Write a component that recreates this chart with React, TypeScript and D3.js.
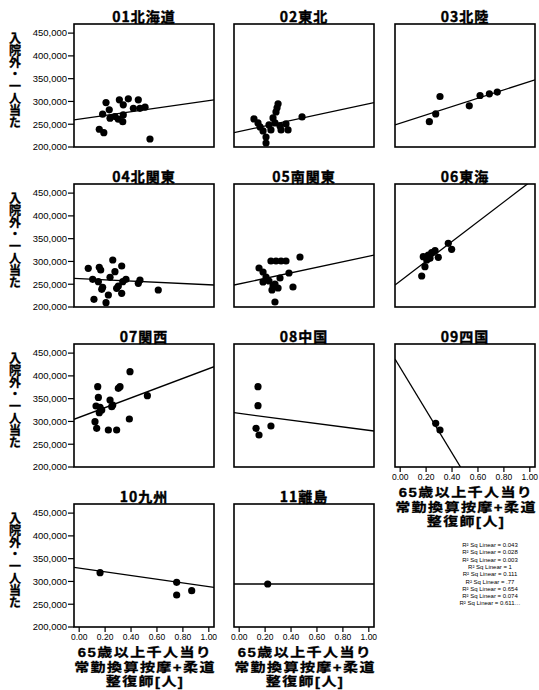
import React from 'react'
import * as d3 from 'd3'

// region titles, one panel per region
const regionNames = [
  '01北海道', '02東北', '03北陸', '04北関東', '05南関東', '06東海',
  '07関西', '08中国', '09四国', '10九州', '11離島',
]

// [x, y] points
const hokkaido: [number, number][] = [
  [0.155, 239000], [0.19, 231500], [0.207, 297600], [0.181, 272000], [0.232, 281500],
  [0.238, 263200], [0.276, 266700], [0.31, 303500], [0.302, 261000], [0.34, 270500],
  [0.34, 292500], [0.379, 305700], [0.336, 255700], [0.418, 285000], [0.456, 303500],
  [0.469, 285000], [0.508, 287400], [0.546, 217600],
]
const tohoku: [number, number][] = [
  [0.114, 261700], [0.145, 252900], [0.161, 244000], [0.184, 235200], [0.207, 222000],
  [0.207, 208800], [0.245, 237400], [0.261, 263900], [0.292, 285900], [0.3, 294700],
  [0.284, 277100], [0.276, 252900], [0.315, 246300], [0.323, 237400], [0.361, 250700],
  [0.377, 237400], [0.485, 266100], [0.23, 248500],
]
const hokuriku: [number, number][] = [
  [0.225, 255700], [0.274, 272700], [0.307, 310800], [0.533, 290300], [0.616, 313000],
  [0.688, 316800], [0.749, 320500],
]
const kitaKanto: [number, number][] = [
  [0.07, 284900], [0.155, 287100], [0.166, 281200], [0.259, 303200], [0.328, 290000],
  [0.276, 277500], [0.104, 260800], [0.148, 255500], [0.238, 265200], [0.361, 260800],
  [0.469, 259300], [0.456, 252000], [0.181, 243200], [0.302, 246100], [0.336, 255500],
  [0.61, 237300], [0.174, 238900], [0.328, 230100], [0.114, 216900], [0.225, 226300],
  [0.207, 209400], [0.289, 241000],
]
const minamiKanto: [number, number][] = [
  [0.153, 285600], [0.184, 276800], [0.207, 265900], [0.23, 257100], [0.261, 246100],
  [0.276, 250500], [0.253, 237300], [0.3, 241700], [0.276, 211000], [0.384, 274600],
  [0.415, 243900], [0.469, 309800], [0.245, 301000], [0.284, 301000], [0.323, 301000],
  [0.361, 301000], [0.184, 254900], [0.315, 263700],
]
const tokai: [number, number][] = [
  [0.166, 268000], [0.191, 288500], [0.205, 303200], [0.178, 310400], [0.217, 314100],
  [0.243, 319200], [0.269, 323600], [0.294, 309100], [0.371, 339800], [0.397, 326700],
  [0.23, 306900],
]
const kansai: [number, number][] = [
  [0.143, 376300], [0.148, 352700], [0.13, 333900], [0.161, 331000], [0.174, 325100],
  [0.155, 319200], [0.122, 299400], [0.135, 285000], [0.225, 281200], [0.289, 281200],
  [0.238, 347100], [0.259, 336100], [0.302, 372700], [0.392, 409200], [0.387, 305400],
  [0.526, 356500], [0.251, 332400], [0.315, 376300],
]
const chugoku: [number, number][] = [
  [0.145, 376300], [0.145, 334600], [0.13, 284900], [0.153, 270200], [0.245, 290000],
]
const shikoku: [number, number][] = [[0.274, 295900], [0.307, 281200]]
const kyushu: [number, number][] = [
  [0.161, 319200], [0.752, 298100], [0.752, 270200], [0.868, 279700],
]
const ritou: [number, number][] = [[0.22, 294400]]

const regionPoints = [
  hokkaido, tohoku, hokuriku, kitaKanto, minamiKanto, tokai,
  kansai, chugoku, shikoku, kyushu, ritou,
]

// linear fit lines, y = intercept + slope * x
const fitIntercept = [261130, 233950, 252170, 262450, 250700, 257000, 309000, 317700, 418200, 329400, 294400]
const fitSlope = [40740, 61200, 91760, -13600, 60900, 217100, 106900, -37200, -469100, -40650, 0]

const yTicks = [200000, 250000, 300000, 350000, 400000, 450000]
const xTicks = [0, 0.2, 0.4, 0.6, 0.8, 1.0]

const yTitle = '入院外・一人当た'
const xTitleLines = ['65歳以上千人当り', '常勤換算按摩+柔道', '整復師[人]']

const rSquaredLabels = [
  'R² Sq Linear = 0.043',
  'R² Sq Linear = 0.028',
  'R² Sq Linear = 0.003',
  'R² Sq Linear = 1',
  'R² Sq Linear = 0.111',
  'R² Sq Linear = .77',
  'R² Sq Linear = 0.654',
  'R² Sq Linear = 0.074',
  'R² Sq Linear = 0.611…',
]

const JP = '"Noto Sans CJK JP", sans-serif'
// latin first so the line box stays compact, CJK glyphs fall back to Noto
const JP_COMPACT = '"Liberation Sans", "Noto Sans CJK JP", sans-serif'
const NUM = '"Liberation Sans", Arial, sans-serif'

export default function App() {
  const width = 539
  const height = 690
  const colLeft = [74, 234, 395]
  const panelW = 140
  const panelH = 123
  const rowTop = (r: number) => 24 + r * 160

  const x = d3.scaleLinear().domain([-0.04, 1.04]).range([0, panelW])
  const y = d3.scaleLinear().domain([200000, 470000]).range([panelH, 0])
  const fmt = d3.format(',')
  const fmtX = d3.format('.2f')

  const showXAxis = (i: number) => i >= 8

  return (
    <div style={{ position: 'absolute', left: 0, top: 0 }}>
      <svg width={width} height={height} style={{ display: 'block', background: '#fff' }}>
        <defs>
          <clipPath id="panel-clip">
            <rect x={0} y={0} width={panelW} height={panelH} />
          </clipPath>
        </defs>

        {regionNames.map((name, i) => {
          const col = i % 3
          const row = Math.floor(i / 3)
          const left = colLeft[col]
          const top = rowTop(row)
          const a = fitIntercept[i]
          const b = fitSlope[i]
          const line = d3
            .line<number>()
            .x((d) => x(d))
            .y((d) => y(a + b * d))
          return (
            <g key={name} transform={`translate(${left},${top})`}>
              <text
                x={panelW / 2}
                y={-2}
                textAnchor="middle"
                fontFamily={JP}
                fontWeight={700}
                fontSize={14}
                letterSpacing={1}
                stroke="#000"
                strokeWidth={0.4}
              >
                {name}
              </text>

              <g clipPath="url(#panel-clip)">
                <path d={line(x.domain()) || ''} fill="none" stroke="#000" strokeWidth={1.3} />
                {regionPoints[i].map((p, k) => (
                  <circle key={k} cx={x(p[0])} cy={y(p[1])} r={3.6} fill="#000" />
                ))}
              </g>

              <rect x={0} y={0} width={panelW} height={panelH} fill="none" stroke="#000" strokeWidth={1.6} />

              {col === 0 && (
                <g>
                  {yTicks.map((t) => (
                    <g key={t} transform={`translate(0,${y(t)})`}>
                      <line x1={-6} x2={0} stroke="#000" strokeWidth={1.2} />
                      <text x={-7} dy="0.35em" textAnchor="end" fontFamily={NUM} fontSize={9.5}>
                        {fmt(t)}
                      </text>
                    </g>
                  ))}
                  <text
                    x={-59}
                    y={56}
                    textAnchor="middle"
                    fontFamily={JP}
                    fontWeight={700}
                    fontSize={12}
                    stroke="#000"
                    strokeWidth={0.3}
                    style={{ writingMode: 'vertical-rl' }}
                  >
                    {yTitle}
                  </text>
                </g>
              )}

              {showXAxis(i) &&
                <g transform={`translate(0,${panelH})`}>
                  {xTicks.map((t) => (
                    <g key={t} transform={`translate(${x(t)},0)`}>
                      <line y1={0} y2={5} stroke="#000" strokeWidth={1.2} />
                      <text y={13} textAnchor="middle" fontFamily={NUM} fontSize={8.5}>
                        {fmtX(t)}
                      </text>
                    </g>
                  ))}
                  {xTitleLines.map((s, k) => (
                    <text
                      key={k}
                      transform={`translate(${panelW / 2 + 1},${30 + k * 14.5}) scale(1.2,1)`}
                      textAnchor="middle"
                      fontFamily={JP_COMPACT}
                      fontWeight={700}
                      fontSize={12.5}
                      letterSpacing={1.2}
                      stroke="#000"
                      strokeWidth={0.3}
                    >
                      {s}
                    </text>
                  ))}
                </g>
              }
            </g>
          )
        })}

        <text transform="translate(490,545)" textAnchor="middle" fontFamily={NUM} fontSize={6}>
          {rSquaredLabels.map((s, k) => (
            <tspan key={k} x={0} y={k * 7.3 + 2}>
              {s}
            </tspan>
          ))}
        </text>
      </svg>
    </div>
  )
}
